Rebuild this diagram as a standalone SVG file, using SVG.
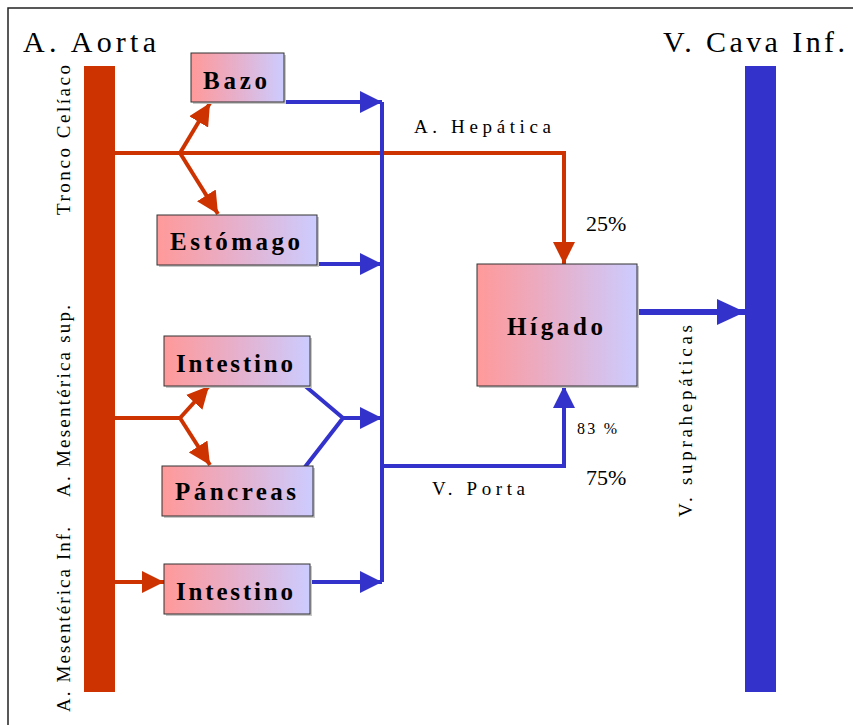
<svg xmlns="http://www.w3.org/2000/svg" width="853" height="725" viewBox="0 0 853 725">
<defs>
<linearGradient id="g" x1="0" y1="0" x2="1" y2="0">
<stop offset="0" stop-color="#FF9999"/>
<stop offset="0.5" stop-color="#E6B0CC"/>
<stop offset="1" stop-color="#CCCCFF"/>
</linearGradient>
<marker id="ar" viewBox="0 0 22 22" refX="22" refY="11" markerWidth="22" markerHeight="22" markerUnits="userSpaceOnUse" orient="auto"><path d="M0,0 L22,11 L0,22 Z" fill="#CC3300"/></marker>
<marker id="ab" viewBox="0 0 22 22" refX="22" refY="11" markerWidth="22" markerHeight="22" markerUnits="userSpaceOnUse" orient="auto"><path d="M0,0 L22,11 L0,22 Z" fill="#3333CC"/></marker>
<marker id="abL" viewBox="0 0 28 26" refX="28" refY="13" markerWidth="28" markerHeight="26" markerUnits="userSpaceOnUse" orient="auto"><path d="M0,0 L28,13 L0,26 Z" fill="#3333CC"/></marker>
</defs>
<style>
.box{fill:url(#g);stroke:#333;stroke-width:1}
.sh{fill:#c8c8c8}
.lbl{font-family:'Liberation Serif','Times New Roman',serif;font-weight:bold;font-size:25px;fill:#000}
.t{font-family:'Liberation Serif','Times New Roman',serif;fill:#000}
.red{stroke:#CC3300;stroke-width:4;fill:none}
.blue{stroke:#3333CC;stroke-width:4;fill:none}
</style>
<rect x="0" y="0" width="853" height="725" fill="#fff"/>
<rect x="8" y="8" width="870" height="740" fill="none" stroke="#222" stroke-width="1.5"/>

<g id="aorta">
<rect x="84" y="66" width="31" height="626" fill="#CC3300"/>
<text class="t" x="23" y="52" font-size="30" textLength="133" lengthAdjust="spacing">A. Aorta</text>
</g>
<g id="cava">
<rect x="745" y="66" width="31" height="626" fill="#3333CC"/>
<text class="t" x="663" y="52" font-size="30" textLength="182" lengthAdjust="spacing">V. Cava Inf.</text>
</g>

<g id="side-labels">
<text class="t" font-size="19" transform="translate(70,215) rotate(-90)" textLength="150" lengthAdjust="spacing">Tronco Celíaco</text>
<text class="t" font-size="19" transform="translate(70,497) rotate(-90)" textLength="192" lengthAdjust="spacing">A. Mesentérica sup.</text>
<text class="t" font-size="19" transform="translate(70,712) rotate(-90)" textLength="185" lengthAdjust="spacing">A. Mesentérica Inf.</text>
<text class="t" font-size="19" transform="translate(692,517) rotate(-90)" textLength="192" lengthAdjust="spacing">V. suprahepáticas</text>
</g>

<g id="connectors">
<path class="red" d="M115,153 H564 V264" marker-end="url(#ar)"/>
<path class="red" d="M180,153 L210,103" marker-end="url(#ar)"/>
<path class="red" d="M180,153 L218,214" marker-end="url(#ar)"/>
<path class="red" d="M115,418 H180"/>
<path class="red" d="M180,418 L209,386" marker-end="url(#ar)"/>
<path class="red" d="M180,418 L210,465" marker-end="url(#ar)"/>
<path class="red" d="M115,582 H164" marker-end="url(#ar)"/>
<path class="blue" d="M382,102 V582"/>
<path class="blue" d="M282,102 H382" marker-end="url(#ab)"/>
<path class="blue" d="M312,264 H382" marker-end="url(#ab)"/>
<path class="blue" d="M304,385 L343,418 L305,467"/>
<path class="blue" d="M343,418 H382" marker-end="url(#ab)"/>
<path class="blue" d="M304,582 H382" marker-end="url(#ab)"/>
<path class="blue" d="M382,466 H564 V386" marker-end="url(#ab)"/>
<path stroke="#3333CC" stroke-width="6" fill="none" d="M637,312 H745" marker-end="url(#abL)"/>
<text class="t" x="414" y="133" font-size="19" textLength="137" lengthAdjust="spacing">A. Hepática</text>
<text class="t" x="432" y="495" font-size="19" textLength="93" lengthAdjust="spacing">V. Porta</text>
<text class="t" x="586" y="231" font-size="22">25%</text>
<text class="t" x="586" y="485" font-size="22">75%</text>
<text class="t" x="577" y="434" font-size="16" textLength="40" lengthAdjust="spacing">83 %</text>
</g>

<g id="bazo">
<rect class="sh" x="193" y="55" width="93" height="49"/>
<rect class="box" x="191" y="53" width="93" height="49"/>
<text class="lbl" x="203" y="89" textLength="64" lengthAdjust="spacing">Bazo</text>
</g>
<g id="estomago">
<rect class="sh" x="159" y="217" width="160" height="50"/>
<rect class="box" x="157" y="215" width="160" height="50"/>
<text class="lbl" x="170" y="250" textLength="130" lengthAdjust="spacing">Estómago</text>
</g>
<g id="intestino1">
<rect class="sh" x="166" y="338" width="146" height="50"/>
<rect class="box" x="164" y="336" width="146" height="50"/>
<text class="lbl" x="176" y="372" textLength="117" lengthAdjust="spacing">Intestino</text>
</g>
<g id="pancreas">
<rect class="sh" x="164" y="468" width="151" height="50"/>
<rect class="box" x="162" y="466" width="151" height="50"/>
<text class="lbl" x="175" y="500" textLength="121" lengthAdjust="spacing">Páncreas</text>
</g>
<g id="intestino2">
<rect class="sh" x="166" y="566" width="146" height="50"/>
<rect class="box" x="164" y="564" width="146" height="50"/>
<text class="lbl" x="176" y="600" textLength="117" lengthAdjust="spacing">Intestino</text>
</g>
<g id="higado">
<rect class="sh" x="479" y="266" width="160" height="122"/>
<rect class="box" x="477" y="264" width="160" height="122"/>
<text class="lbl" x="507" y="335" textLength="96" lengthAdjust="spacing">Hígado</text>
</g>
</svg>
